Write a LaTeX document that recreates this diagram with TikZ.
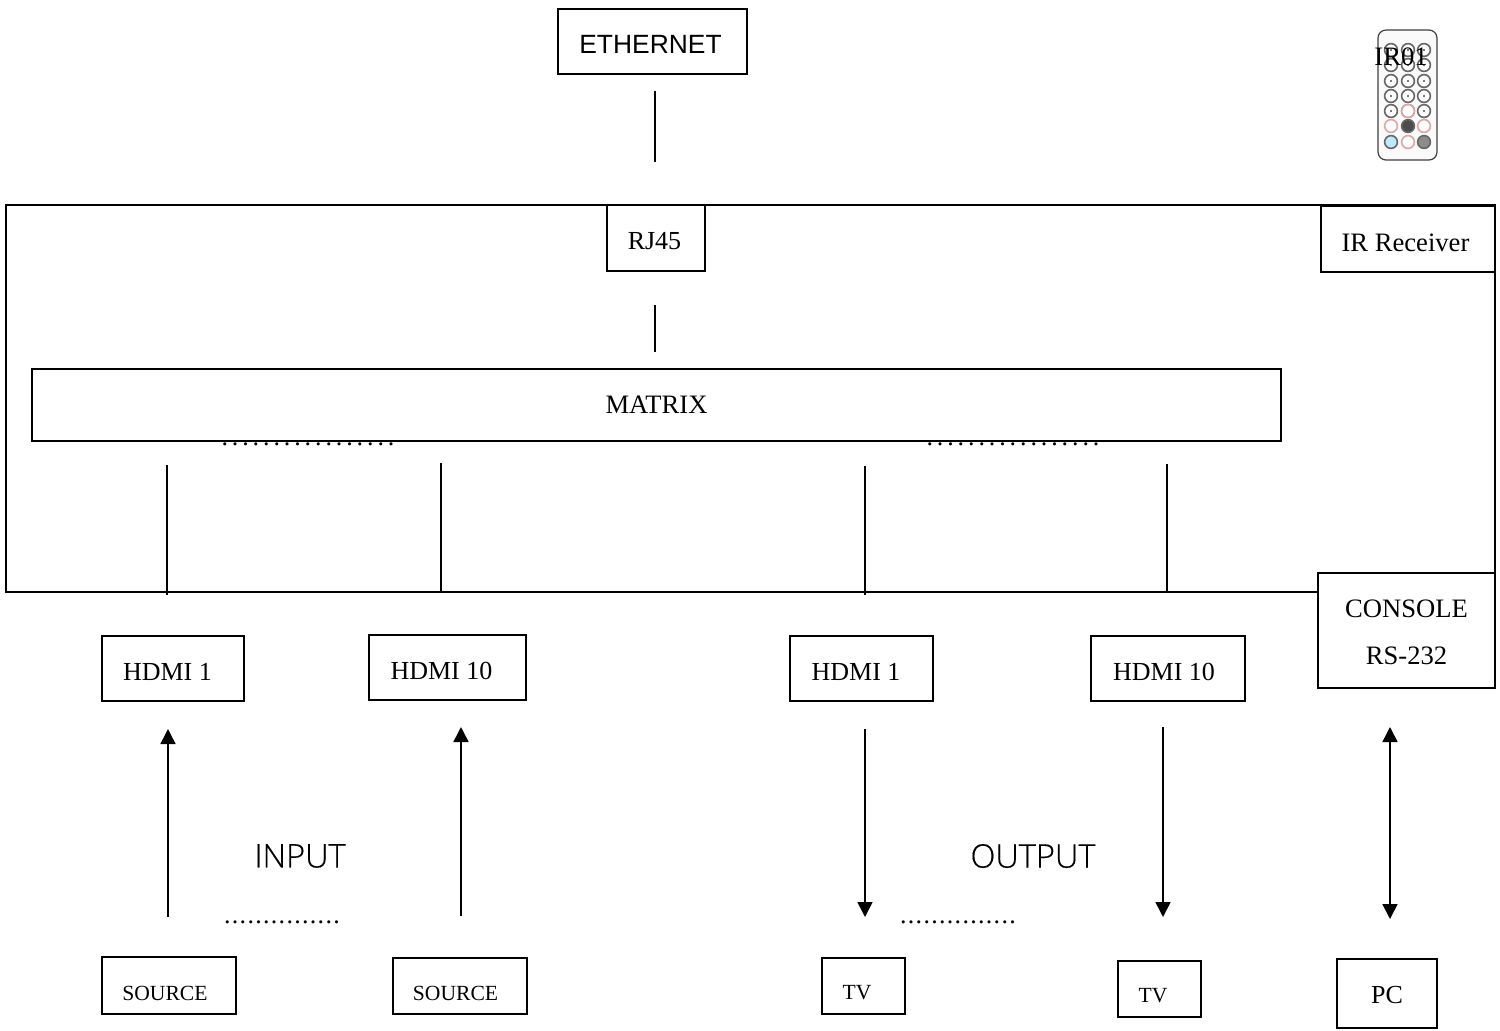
\documentclass[tikz,border=0pt]{standalone}
\usepackage{fontspec}
\setmainfont{Liberation Serif}
\newfontfamily\arialf{Liberation Sans}
\newfontfamily\thinf[FakeBold=0.4]{Open Sans Light}
\newfontfamily\dotsa[LetterSpace=15]{Liberation Serif}
\newfontfamily\dotsb[LetterSpace=5]{Liberation Serif}
\usetikzlibrary{arrows.meta}
\tikzset{
  px/.style={x=0.5pt,y=-0.5pt},
  boxline/.style={draw=black,line width=0.85pt,fill=none},
  conn/.style={draw=black,line width=0.8pt},
  arrow/.style={conn,-{Triangle[length=7.5pt,width=7.5pt]}},
  darrow/.style={conn,{Triangle[length=7.5pt,width=7.5pt]}-{Triangle[length=7.5pt,width=7.5pt]}},
  txt/.style={inner sep=0pt,font=\fontsize{13.3}{15}\selectfont},
  hdmitxt/.style={inner sep=0pt,font=\fontsize{13}{15}\selectfont},
  smalltxt/.style={inner sep=0pt,font=\fontsize{10.8}{13}\selectfont},
  thintxt/.style={inner sep=0pt,font=\thinf\fontsize{16.3}{20}\selectfont},
  btn/.style={draw=black!60,line width=0.8pt,fill=white,circle,minimum size=6.4pt,inner sep=0pt},
  pinkbtn/.style={btn,draw=black!35!red!35},
}
\newcommand{\pxbox}[5]{% name x1 y1 x2 y2
  \path[boxline] (#2,#3) rectangle (#4,#5);
  \coordinate (#1-n) at ({(#2+#4)/2},#3);
  \coordinate (#1-s) at ({(#2+#4)/2},#5);
}
\begin{document}
\begin{tikzpicture}[px]
\useasboundingbox (0,0) rectangle (1500,1030);
% dots under the matrix edge
\node[inner sep=0pt,anchor=base,font=\dotsa\fontsize{13}{15}\selectfont] (dl) at (308,445) {.................};
\node[inner sep=0pt,anchor=base,font=\dotsa\fontsize{13}{15}\selectfont] (dr) at (1013,445) {.................};
% main enclosure
\pxbox{main}{6}{205}{1495}{592}
% boxes
\pxbox{eth}{558}{9}{747}{74}
\pxbox{rj}{607}{205}{705}{271}
\pxbox{irr}{1321}{206}{1495}{272}
\pxbox{mat}{32}{369}{1281}{441}
\pxbox{hi1}{102}{636}{244}{701}
\pxbox{hi10}{369}{635}{526}{700}
\pxbox{ho1}{790}{636}{933}{701}
\pxbox{ho10}{1091}{636}{1245}{701}
\path[boxline,fill=white] (1318,573) rectangle (1495,688);
\pxbox{src1}{102}{957}{236}{1014}
\pxbox{src2}{393}{958}{527}{1014}
\pxbox{tv1}{822}{958}{905}{1014}
\pxbox{tv2}{1118}{961}{1201}{1017}
\pxbox{pc}{1337}{959}{1437}{1028}
% labels
\node[inner sep=0pt,font=\arialf\fontsize{13.2}{15}\selectfont] (tEth) at (650.5,44) {ETHERNET};
\node[hdmitxt] (tRj) at (654.5,241) {RJ45};
\node[txt] (tIrr) at (1405.5,243) {IR Receiver};
\node[txt] (tMat) at (656.5,405) {MATRIX};
\node[hdmitxt] (tH1) at (167.5,672) {HDMI 1};
\node[hdmitxt] (tH10) at (441.5,671) {HDMI 10};
\node[hdmitxt] (tO1) at (856,672) {HDMI 1};
\node[hdmitxt] (tO10) at (1164,672) {HDMI 10};
\node[txt] (tCon) at (1406.5,609) {CONSOLE};
\node[txt] (tRs) at (1406.5,656) {RS-232};
\node[smalltxt] (tS1) at (165,993) {SOURCE};
\node[smalltxt] (tS2) at (455.5,993) {SOURCE};
\node[smalltxt] (tT1) at (857,993) {TV};
\node[smalltxt] (tT2) at (1153,996) {TV};
\node[hdmitxt] (tPc) at (1387,995) {PC};
\node[thintxt] (tIn) at (300,856) {INPUT};
\node[thintxt] (tOut) at (1033,856) {OUTPUT};
\node[inner sep=0pt,anchor=base,font=\dotsb\fontsize{13}{15}\selectfont] (d1) at (282,923) {...............};
\node[inner sep=0pt,anchor=base,font=\dotsb\fontsize{13}{15}\selectfont] (d2) at (958,923) {...............};
% plain connectors
\coordinate (a1) at (655,91); \coordinate (a2) at (655,162);
\draw[conn] (a1) -- (a2);
\coordinate (b1) at (655,305); \coordinate (b2) at (655,352);
\draw[conn] (b1) -- (b2);
\coordinate (c1) at (167,465); \coordinate (c2) at (167,595);
\draw[conn] (c1) -- (c2);
\coordinate (e1) at (441,463); \coordinate (e2) at (441,592);
\draw[conn] (e1) -- (e2);
\coordinate (f1) at (865,466); \coordinate (f2) at (865,595);
\draw[conn] (f1) -- (f2);
\coordinate (g1) at (1167,464); \coordinate (g2) at (1167,592);
\draw[conn] (g1) -- (g2);
% arrows
\coordinate (h1) at (168,917); \coordinate (h2) at (168,729);
\draw[arrow] (h1) -- (h2);
\coordinate (i1) at (461,916); \coordinate (i2) at (461,727);
\draw[arrow] (i1) -- (i2);
\coordinate (j1) at (865,729); \coordinate (j2) at (865,917);
\draw[arrow] (j1) -- (j2);
\coordinate (k1) at (1163,727); \coordinate (k2) at (1163,917);
\draw[arrow] (k1) -- (k2);
\coordinate (l1) at (1390,727); \coordinate (l2) at (1390,919);
\draw[darrow] (l1) -- (l2);
% remote control
\draw[black!75,line width=0.6pt,fill=black!2,rounded corners=4pt] (1378,30) rectangle (1437,160);
\foreach \yy in {50,65,81,96,111}{
  \foreach \xx in {1391,1408,1424}{
    \node[btn] at (\xx,\yy) {};
    \fill[black!70] (\xx,\yy) circle (0.6pt);
  }
}
\node[pinkbtn] at (1408,111) {};
\node[pinkbtn] at (1391,126) {};
\node[pinkbtn] at (1424,126) {};
\node[pinkbtn] at (1408,142) {};
\node[btn,fill=cyan!25] at (1391,142) {};
\node[btn,fill=black!45] at (1424,142) {};
\node[btn,fill=black!70] at (1408,126) {};
\node[txt] (tIr) at (1401,57) {IR01};
\end{tikzpicture}
\end{document}
